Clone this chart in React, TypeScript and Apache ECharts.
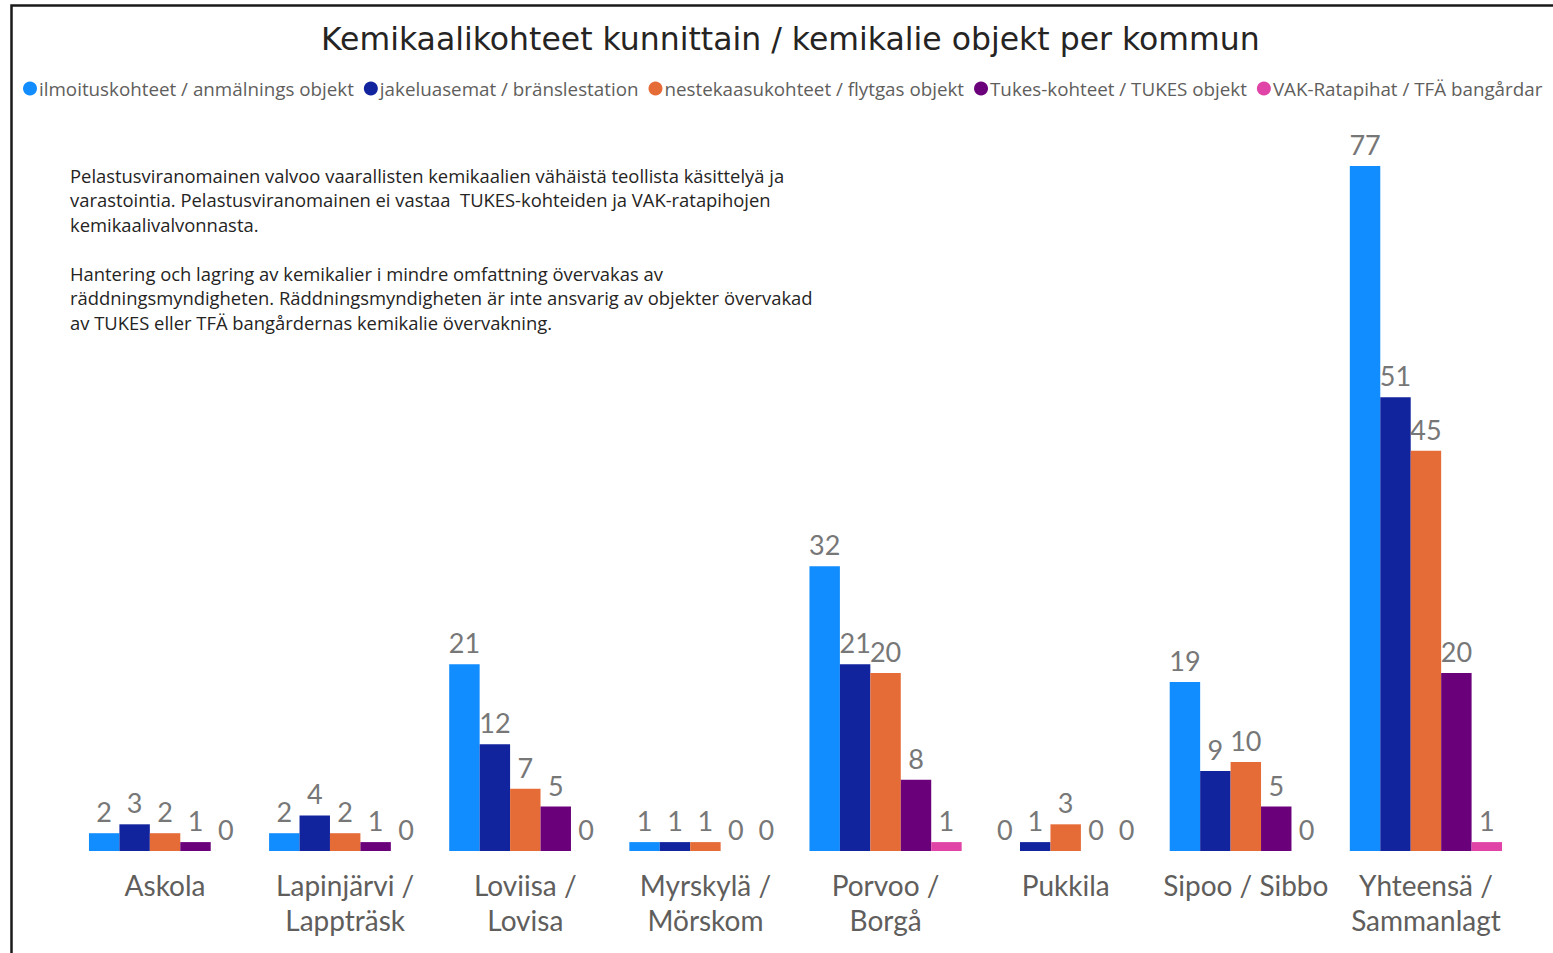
import React, { useEffect, useRef } from "react";
import * as echarts from "echarts";

const categories = [
  "Askola",
  "Lapinjärvi /\nLappträsk",
  "Loviisa /\nLovisa",
  "Myrskylä /\nMörskom",
  "Porvoo /\nBorgå",
  "Pukkila",
  "Sipoo / Sibbo",
  "Yhteensä /\nSammanlagt",
];

const seriesNames = [
  "ilmoituskohteet / anmälnings objekt",
  "jakeluasemat / bränslestation",
  "nestekaasukohteet / flytgas objekt",
  "Tukes-kohteet / TUKES objekt",
  "VAK-Ratapihat / TFÄ bangårdar",
];

const ilmoitus = [2, 2, 21, 1, 32, 0, 19, 77];
const jakelu = [3, 4, 12, 1, 21, 1, 9, 51];
const nestekaasu = [2, 2, 7, 1, 20, 3, 10, 45];
const tukes = [1, 1, 5, 0, 8, 0, 5, 20];
const vak = [0, 0, 0, 0, 1, 0, 0, 1];

const colors = ["#118DFF", "#12239E", "#E66C37", "#6B007B", "#E044A7"];

const titleText = "Kemikaalikohteet kunnittain / kemikalie objekt per kommun";
const noteLines = [
  "Pelastusviranomainen valvoo vaarallisten kemikaalien vähäistä teollista käsittelyä ja",
  "varastointia. Pelastusviranomainen ei vastaa  TUKES-kohteiden ja VAK-ratapihojen",
  "kemikaalivalvonnasta.",
  "",
  "Hantering och lagring av kemikalier i mindre omfattning övervakas av",
  "räddningsmyndigheten. Räddningsmyndigheten är inte ansvarig av objekter övervakad",
  "av TUKES eller TFÄ bangårdernas kemikalie övervakning.",
];

const FONT = "'Segoe UI', Lato, 'Noto Sans', sans-serif";
const FONT2 = "'Open Sans', 'Noto Sans', sans-serif";

export default function App() {
  const ref = useRef<HTMLDivElement>(null);
  useEffect(() => {
    document.body.style.margin = "0";
    if (!ref.current) return;
    const chart = echarts.init(ref.current, null, { renderer: "svg" });
    const allData = [ilmoitus, jakelu, nestekaasu, tukes, vak];
    chart.setOption({
      animation: false,
      backgroundColor: "#ffffff",
      title: {
        text: titleText,
        left: 316,
        top: 18,
        textStyle: {
          fontFamily: "'DejaVu Sans', sans-serif",
          fontSize: 31.5,
          fontWeight: "normal",
          color: "#252423",
        },
      },
      legend: {
        top: 74,
        left: 18,
        icon: "circle",
        itemWidth: 14,
        itemHeight: 14,
        itemGap: 10,
        textStyle: {
          fontFamily: FONT2,
          fontSize: 18.8,
          color: "#605E5C",
          padding: [0, 0, 0, -3],
        },
        data: seriesNames,
      },
      grid: { left: 75, right: 37, top: 166, bottom: 102 },
      xAxis: {
        type: "category",
        data: categories,
        axisLine: { show: false },
        axisTick: { show: false },
        axisLabel: {
          margin: 16,
          fontFamily: FONT,
          fontSize: 28,
          lineHeight: 35,
          color: "#605E5C",
          interval: 0,
        },
      },
      yAxis: {
        type: "value",
        min: 0,
        max: 77,
        show: false,
        splitLine: { show: false },
      },
      graphic: [
        {
          type: "rect",
          shape: { x: 11.5, y: 5.5, width: 1600, height: 1000 },
          style: { fill: "none", stroke: "#1a1a1a", lineWidth: 2.5 },
          silent: true,
        },
        {
          type: "text",
          left: 70,
          top: 163,
          style: {
            text: noteLines.join("\n"),
            fontFamily: FONT2,
            fontSize: 18.4,
            lineHeight: 24.5,
            fill: "#252423",
          },
        },
      ],
      series: seriesNames.map((name, i) => ({
        name,
        type: "bar",
        data: allData[i],
        barGap: "0%",
        barCategoryGap: "15.5%",
        itemStyle: { color: colors[i] },
        label: {
          show: true,
          position: "top",
          distance: 8,
          fontFamily: FONT,
          fontSize: 27,
          color: "#777777",
        },
      })),
    });
    return () => chart.dispose();
  }, []);
  return <div ref={ref} style={{ width: 1553, height: 953 }} />;
}
